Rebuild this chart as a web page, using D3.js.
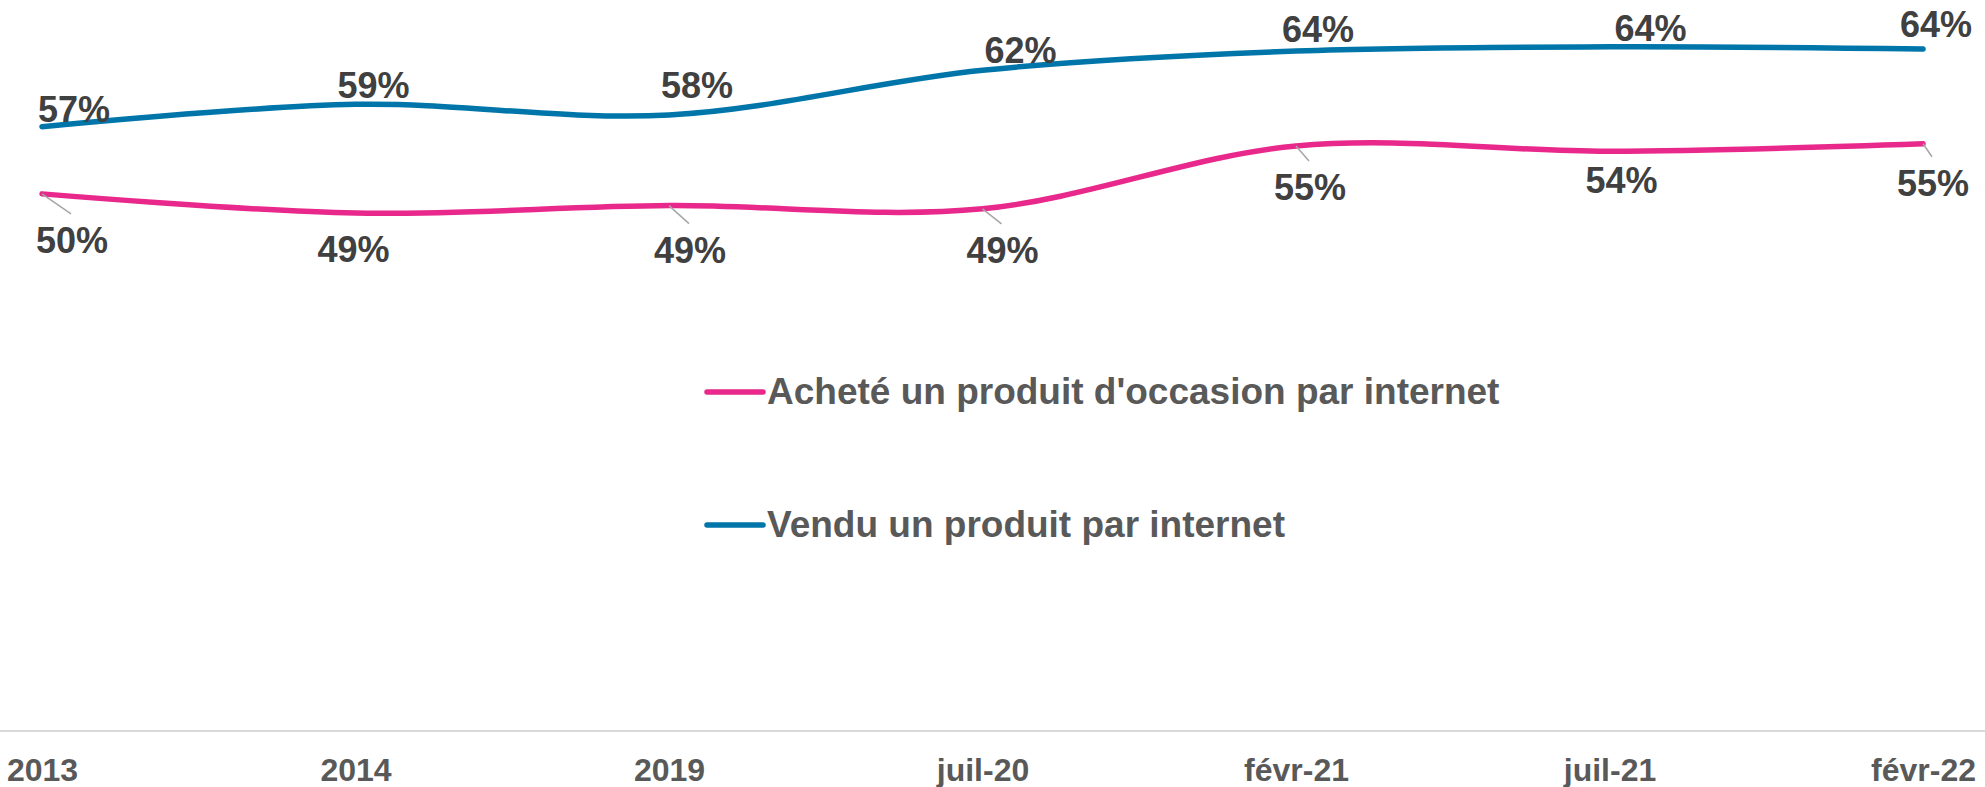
<!DOCTYPE html>
<html>
<head>
<meta charset="utf-8">
<script src="https://cdn.jsdelivr.net/npm/d3@7"></script>
<style>
  body { margin: 0; background: #fff; }
  text { font-family: "Liberation Sans", Arial, sans-serif; font-weight: bold; }
</style>
</head>
<body>
<div id="chart"></div>
<script>
// Categories and values (percent)
var periods = ["2013", "2014", "2019", "juil-20", "févr-21", "juil-21", "févr-22"];
var achete = [50.4, 48.6, 49.3, 49.0, 54.9, 54.4, 55.1];
var vendu = [56.7, 58.8, 57.8, 62.0, 63.8, 64.2, 64.0];
var seriesNames = ["Acheté un produit d'occasion par internet", "Vendu un produit par internet"];

// Manual label nudges (centre dx, baseline dy) like in the original
var vendNudge = [[32, -5], [18, -6], [28, -17], [38, -7], [22, -9], [41, -6], [13, -12]];
var achNudge = [[30, 59], [-2, 49], [21, 57], [20, 54], [14, 54], [12, 42], [10, 52]];

var width = 1985, height = 787;
var pink = "#e8298b", blue = "#0075a9";

var svg = d3.select("#chart")
  .append("svg")
  .attr("width", width)
  .attr("height", height);

var x = d3.scalePoint()
  .domain(periods)
  .range([42, 1923]);

var y = d3.scaleLinear()
  .domain([0, 70])
  .range([731, -15]);

// X axis
svg.append("g")
  .attr("transform", "translate(0,731)")
  .call(d3.axisBottom(x).tickSize(0).tickPadding(0))
  .call(g => g.select(".domain").remove())
  .call(g => g.selectAll(".tick text")
    .attr("y", 50)
    .attr("dy", 0)
    .attr("fill", "#595959")
    .style("font-size", "32px"));

svg.append("line")
  .attr("x1", 0).attr("x2", width)
  .attr("y1", 731).attr("y2", 731)
  .attr("stroke", "#d9d9d9")
  .attr("stroke-width", 2);

var line = d3.line()
  .x((d, i) => x(periods[i]))
  .y(d => y(d))
  .curve(d3.curveCardinal.tension(0));

[[achete, pink], [vendu, blue]].forEach(function(s) {
  svg.append("path")
    .datum(s[0])
    .attr("fill", "none")
    .attr("stroke", s[1])
    .attr("stroke-width", 5.5)
    .attr("stroke-linecap", "round")
    .attr("d", line);
});

var fmt = d => Math.round(d) + "%";

// Leader lines for the labels that were pulled away from their point
var leaderIdx = d3.range(achete.length).filter(i => achNudge[i][1] > 50);
svg.selectAll(".leader")
  .data(leaderIdx)
  .enter()
  .append("line")
    .attr("x1", i => x(periods[i]))
    .attr("y1", i => y(achete[i]))
    .attr("x2", i => x(periods[i]) + achNudge[i][0] - 1)
    .attr("y2", i => y(achete[i]) + achNudge[i][1] - 39)
    .attr("stroke", "#a6a6a6")
    .attr("stroke-width", 1.5);

svg.selectAll(".lab-ach")
  .data(achete)
  .enter()
  .append("text")
    .attr("x", (d, i) => x(periods[i]) + achNudge[i][0])
    .attr("y", (d, i) => y(d) + achNudge[i][1])
    .attr("text-anchor", "middle")
    .attr("fill", "#404040")
    .style("font-size", "36px")
    .text(fmt);

svg.selectAll(".lab-vend")
  .data(vendu)
  .enter()
  .append("text")
    .attr("x", (d, i) => x(periods[i]) + vendNudge[i][0])
    .attr("y", (d, i) => y(d) + vendNudge[i][1])
    .attr("text-anchor", "middle")
    .attr("fill", "#404040")
    .style("font-size", "36px")
    .text(fmt);

// Legend
var legend = svg.selectAll(".legend")
  .data(seriesNames)
  .enter()
  .append("g")
    .attr("transform", (d, i) => "translate(707," + (392 + i * 133) + ")");

legend.append("line")
  .attr("x1", 0).attr("x2", 56)
  .attr("stroke", (d, i) => i == 0 ? pink : blue)
  .attr("stroke-width", 5.5)
  .attr("stroke-linecap", "round");

legend.append("text")
  .attr("x", 60)
  .attr("y", 12)
  .attr("fill", "#595959")
  .style("font-size", "37px")
  .text(d => d);
</script>
</body>
</html>
